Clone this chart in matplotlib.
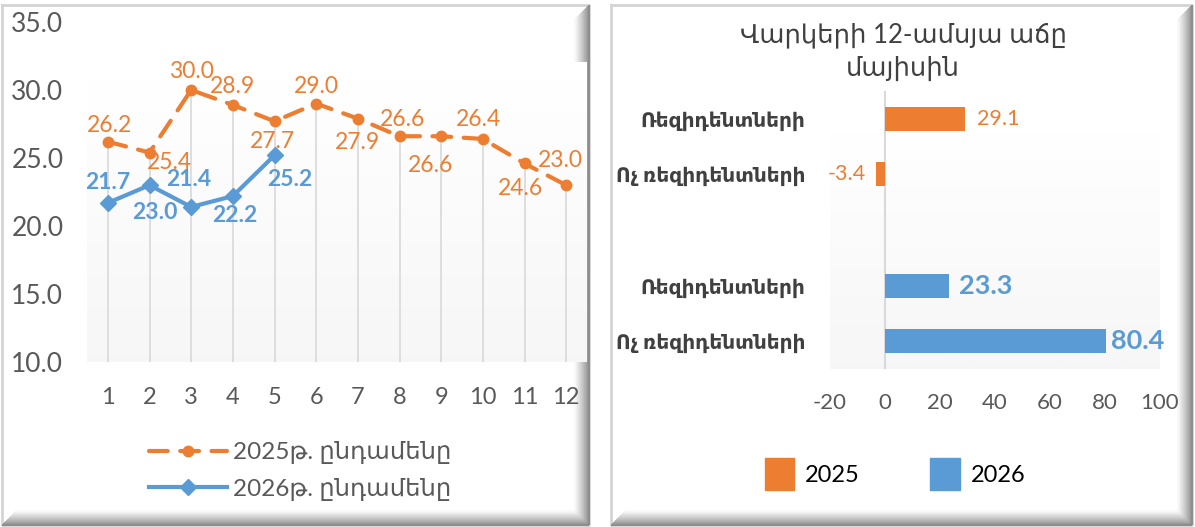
import numpy as np
import matplotlib.pyplot as plt
from matplotlib.patches import Patch
from matplotlib.lines import Line2D

plt.rcParams['font.family'] = ['Lato', 'DejaVu Sans']

# data, left chart
months = list(range(1, 13))
y2025 = [26.2, 25.4, 30.0, 28.9, 27.7, 29.0, 27.9, 26.6, 26.6, 26.4, 24.6, 23.0]
y2026 = [21.7, 23.0, 21.4, 22.2, 25.2]
lab2025 = "2025թ. ընդամենը"
lab2026 = "2026թ. ընդամենը"

# data, right chart
bar_title = "Վարկերի 12-ամսյա աճը\nմայիսին"
cats = ["Ռեզիդենտների", "Ոչ ռեզիդենտների"]
bar2025 = [29.1, -3.4]
bar2026 = [23.3, 80.4]

ORANGE = '#ED7D31'
BLUE = '#5B9BD5'
GRAY_TXT = '#595959'

W, H = 1195, 527
fig = plt.figure(figsize=(W / 100, H / 100), dpi=100)

# background with the two beveled frames
bg = fig.add_axes([0, 0, 1, 1])
bg.set_xlim(0, W)
bg.set_ylim(H, 0)
bg.axis('off')


def frame(x0, y0, x1, y1, n=15):
    bg.plot([x0, x1, x1, x0, x0], [y0, y0, y1, y1, y0], color='#d4d4d4', lw=2)
    for d in range(n):
        g = 0.5 + 0.5 * (d / n) ** 0.8
        c = (g, g, g)
        bg.plot([x1 - d, x1 - d], [y0 + d, y1 - d], color=c, lw=1.2, solid_capstyle='butt')
        bg.plot([x0 + d, x1 - d], [y1 - d, y1 - d], color=c, lw=1.2, solid_capstyle='butt')


frame(2, 5, 589, 525)
frame(611, 5, 1192, 525)

grad = np.linspace(0, 1, 100).reshape(-1, 1)

# ---------------- left: line chart ----------------
ax = fig.add_axes([87 / W, 1 - 362 / H, 500 / W, 340 / H])
ax.set_facecolor('none')
ax.set_xlim(0.5, 12.5)
ax.set_ylim(10, 35)
ax.imshow(grad, extent=(0.5, 12.5, 10, 32), aspect='auto', cmap='Greys',
          vmin=0, vmax=14, origin='upper', zorder=0)

top = [max(a, b) for a, b in zip(y2025, y2026 + [0] * 7)]
ax.vlines(months, 10, top, color='#d9d9d9', lw=1.2, zorder=1)

dash = (0, (4.5, 3))
ax.plot(months, y2025, color=ORANGE, lw=3, ls=dash, dash_capstyle='round',
        marker='o', ms=7.5, zorder=3)
ax.plot(months[:5], y2026, color=BLUE, lw=3, marker='D', ms=8.5, zorder=4)

off2025 = [(2, 16), (20, -10), (0, 18), (0, 18), (-2, -20), (0, 17),
           (0, -24), (3, 17), (-11, -29), (-4, 19), (-4, -25), (-6, 25)]
off2026 = [(0, 20), (5, -27), (-2, 27), (2, -19), (15, -24)]
for x, v, o in zip(months, y2025, off2025):
    ax.annotate(f"{v:.1f}", (x, v), xytext=o, textcoords='offset pixels',
                ha='center', va='center', color=ORANGE, fontsize=16.5)
for x, v, o in zip(months, y2026, off2026):
    ax.annotate(f"{v:.1f}", (x, v), xytext=o, textcoords='offset pixels',
                ha='center', va='center', color=BLUE, fontsize=16.5, fontweight='bold')

ax.set_xticks(months)
ax.set_yticks(np.arange(10, 36, 5))
ax.set_yticklabels([f"{v:.1f}" for v in np.arange(10, 36, 5)])
ax.tick_params(length=0, colors=GRAY_TXT)
ax.tick_params(axis='y', labelsize=19, pad=17)
ax.tick_params(axis='x', labelsize=17, pad=18)
for s in ax.spines.values():
    s.set_visible(False)

handles = [Line2D([], [], color=ORANGE, lw=3, ls=dash, dash_capstyle='round', marker='o', ms=7.5),
           Line2D([], [], color=BLUE, lw=3, marker='D', ms=8.5)]
fig.legend(handles, [lab2025, lab2026], loc='center', bbox_to_anchor=(300 / W, 1 - 471 / H),
           frameon=False, fontsize=17.5, handlelength=3.2, handletextpad=0.25,
           labelspacing=0.55, labelcolor=GRAY_TXT, numpoints=1)

# ---------------- right: bar chart ----------------
bx = fig.add_axes([830 / W, 1 - 369 / H, 330 / W, 278 / H])
bx.set_facecolor('none')
bx.imshow(grad, extent=(0, 1, 0, 0.9), transform=bx.transAxes, aspect='auto',
          cmap='Greys', vmin=0, vmax=14, origin='upper', zorder=0)
pos25 = [0, 1]
pos26 = [3, 4]
bx.barh(pos25, bar2025, height=0.43, color=ORANGE, zorder=2)
bx.barh(pos26, bar2026, height=0.43, color=BLUE, zorder=2)
bx.axvline(0, color='#d9d9d9', lw=1.5, zorder=1)
bx.set_xlim(-20, 100)
bx.set_ylim(4.5, -0.5)

for p, v in zip(pos25, bar2025):
    bx.annotate(f"{v:.1f}", (v, p), xytext=(12 if v > 0 else -10, 0), textcoords='offset pixels',
                ha='left' if v > 0 else 'right', va='center', color=ORANGE, fontsize=15.5)
for p, v in zip(pos26, bar2026):
    bx.annotate(f"{v:.1f}", (v, p), xytext=(10 if v < 50 else 5, 0), textcoords='offset pixels',
                ha='left', va='center', color=BLUE, fontsize=19.5, fontweight='bold')

bx.set_yticks(pos25 + pos26)
bx.set_yticklabels(cats + cats, fontweight='bold', color='#404040', fontsize=14.5)
bx.set_xticks(range(-20, 101, 20))
bx.set_xticklabels([str(v) for v in range(-20, 101, 20)])
bx.tick_params(length=0)
bx.tick_params(axis='x', labelsize=16, colors=GRAY_TXT, pad=17)
bx.tick_params(axis='y', pad=18)
for s in bx.spines.values():
    s.set_visible(False)

fig.text(903 / W, 1 - 52 / H, bar_title, ha='center', va='center', fontsize=18.5,
         color='#404040', linespacing=1.4)

bhandles = [Patch(color=ORANGE), Patch(color=BLUE)]
fig.legend(bhandles, ["2025", "2026"], loc='center', bbox_to_anchor=(895 / W, 1 - 474 / H),
           ncol=2, frameon=False, fontsize=17, handlelength=1.25, handleheight=1.75,
           handletextpad=0.45, columnspacing=3.0, labelcolor='black')

fig.savefig('out.png', dpi=100)
